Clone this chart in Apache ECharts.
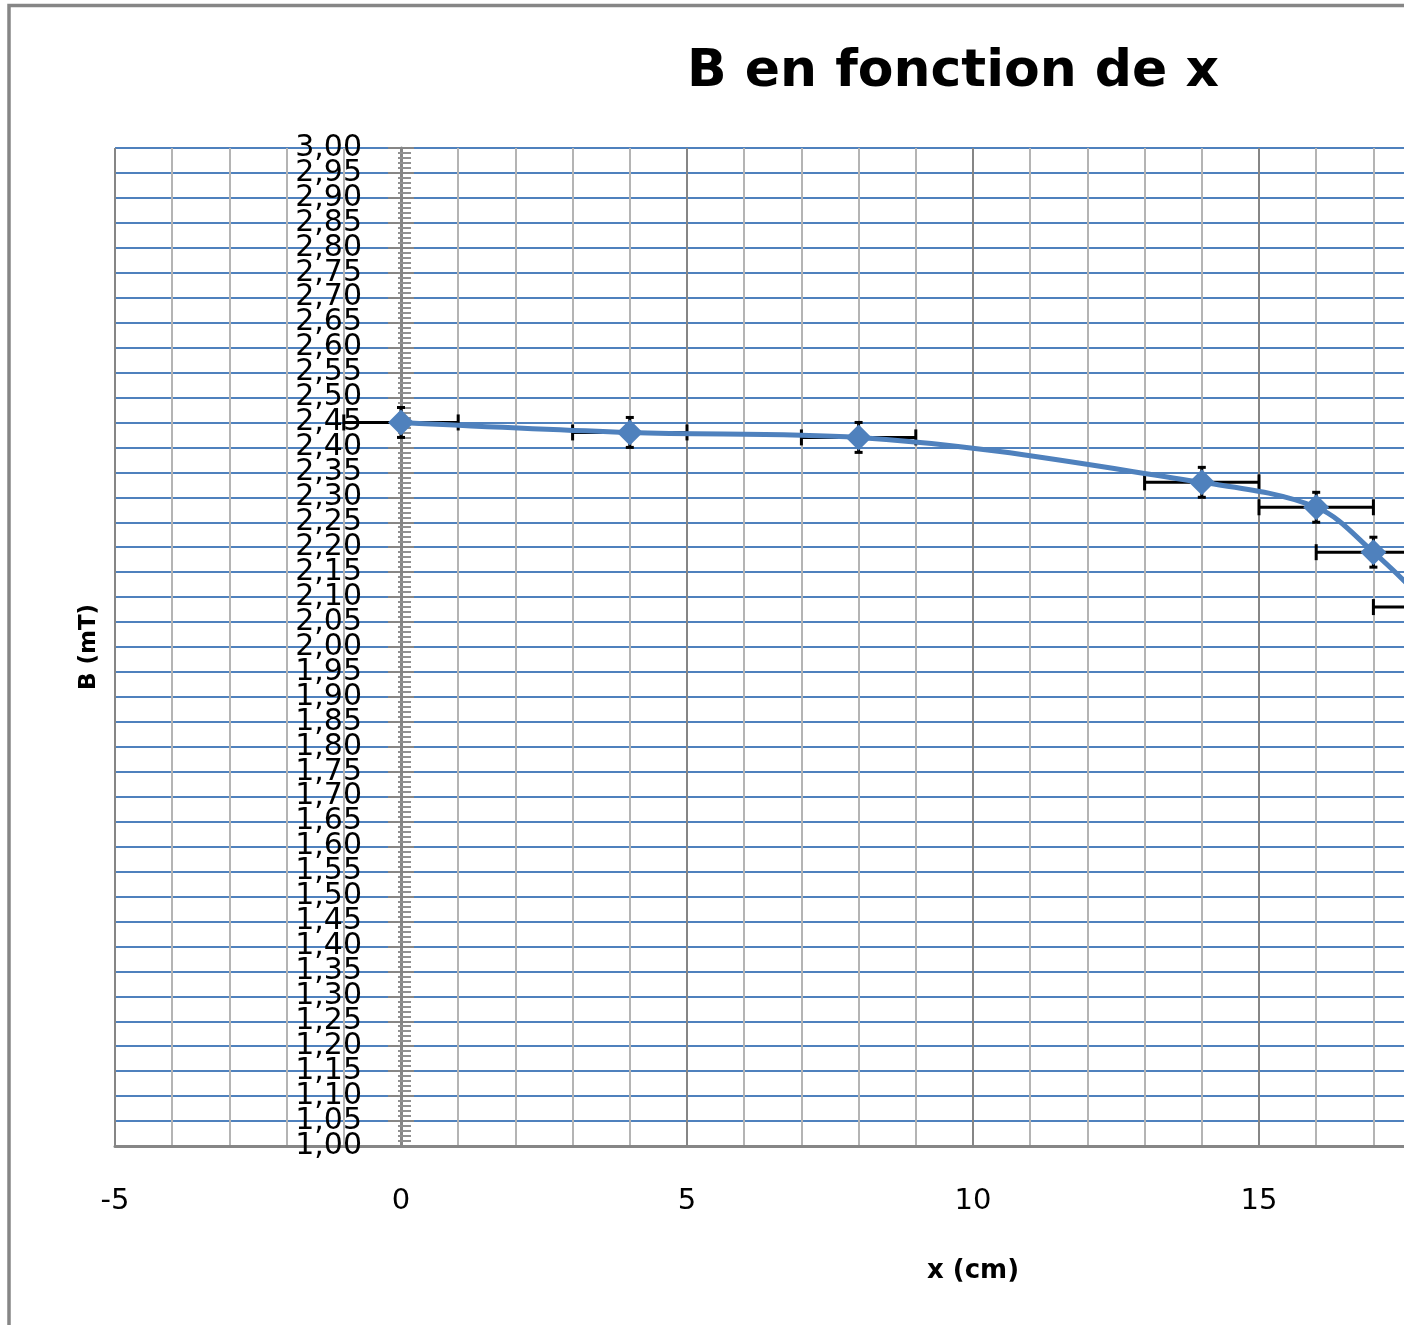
<!DOCTYPE html>
<html>
<head>
<meta charset="utf-8">
<script src="https://cdn.jsdelivr.net/npm/echarts@6/dist/echarts.min.js"></script>
<style>
html,body{margin:0;padding:0;background:#fff;}
#chart{width:1404px;height:1325px;}
</style>
</head>
<body>
<div id="chart"></div>
<script>
// Data
var xValues = [0, 4, 8, 14, 16, 17, 18];          // x (cm)
var bValues = [2.45, 2.43, 2.42, 2.33, 2.28, 2.19, 2.08]; // B (mT)
var xErrors = [1, 1, 1, 1, 1, 1, 1];              // ± x error
var bErrors = [0.03, 0.03, 0.03, 0.03, 0.03, 0.03, 0.03]; // ± B error

var titleText = 'B en fonction de x';
var xName = 'x (cm)';
var yName = 'B (mT)';

var lineData = xValues.map(function (x, i) { return [x, bValues[i]]; });
var errData = xValues.map(function (x, i) { return [x, bValues[i], xErrors[i], bErrors[i]]; });

var chart = echarts.init(document.getElementById('chart'));
var GRID_LEFT = 115, GRID_TOP = 148, PX_PER_X = 57.2;
var X_MIN = -5, X_MAX = 25, Y_MIN = 1, Y_MAX = 3;
// y axis crosses at x = 0 : shift it inward from the grid's left edge
var Y_AXIS_OFFSET = -(0 - X_MIN) * PX_PER_X;

function fmt(v) { return v.toFixed(2).replace('.', ','); }
var labelStyle = { margin: 39, fontFamily: 'DejaVu Sans', fontSize: 30, color: '#000', hideOverlap: false, formatter: fmt };

var option = {
  animation: false,
  backgroundColor: '#ffffff',
  graphic: [
    {
      type: 'rect', z: -10,
      shape: { x: 9, y: 5.5, width: 3000, height: 3000 },
      style: { fill: '#ffffff', stroke: '#868686', lineWidth: 3.5 }
    },
    {
      type: 'text', z: 100,
      x: 953, y: 72,
      style: {
        text: titleText, fill: '#000', align: 'center', verticalAlign: 'middle',
        font: 'bold 52px "DejaVu Sans"'
      }
    }
  ],
  grid: {
    left: GRID_LEFT, top: GRID_TOP,
    width: PX_PER_X * (X_MAX - X_MIN), height: 998,
    containLabel: false,
    outerBoundsMode: 'none'
  },
  xAxis: {
    type: 'value', min: X_MIN, max: X_MAX, interval: 5,
    name: xName, nameLocation: 'middle', nameGap: 112,
    nameTextStyle: { fontFamily: 'DejaVu Sans', fontWeight: 'bold', fontSize: 26, color: '#000' },
    axisLine: { show: true, onZero: false, lineStyle: { color: '#868686', width: 3 } },
    axisTick: { show: false },
    axisLabel: { margin: 41, fontFamily: 'DejaVu Sans', fontSize: 29, color: '#000', showMinLabel: true, showMaxLabel: true, hideOverlap: false },
    splitLine: { show: true, lineStyle: { color: '#868686', width: 2 } },
    minorTick: { show: false, splitNumber: 5 },
    minorSplitLine: { show: true, lineStyle: { color: '#b4b4b4', width: 2 } }
  },
  yAxis: [
    {
      type: 'value', min: Y_MIN, max: Y_MAX, interval: 0.05,
      position: 'left', offset: Y_AXIS_OFFSET,
      name: yName, nameLocation: 'middle', nameGap: 300, nameRotate: 90,
      nameTextStyle: { fontFamily: 'DejaVu Sans', fontWeight: 'bold', fontSize: 23, color: '#000' },
      axisLine: { show: true, onZero: false, lineStyle: { color: '#868686', width: 3 } },
      axisTick: { show: true, inside: true, length: 13, lineStyle: { color: '#868686', width: 2 } },
      minorTick: { show: true, splitNumber: 5, length: 10, lineStyle: { color: '#909090', width: 2 } },
      axisLabel: Object.assign({}, labelStyle, { showMinLabel: false, showMaxLabel: false }),
      splitLine: { show: true, lineStyle: { color: '#4f81bd', width: 2 } }
    },
    {
      // outward half of the crossing ticks
      type: 'value', min: Y_MIN, max: Y_MAX, interval: 0.05,
      position: 'left', offset: Y_AXIS_OFFSET,
      axisLine: { show: false, onZero: false },
      axisTick: { show: true, inside: false, length: 13, lineStyle: { color: '#868686', width: 2 } },
      minorTick: { show: true, splitNumber: 5, length: 3, lineStyle: { color: '#909090', width: 2 } },
      axisLabel: { show: false },
      splitLine: { show: false }
    },
    {
      // end labels (1,00 and 3,00)
      type: 'value', min: Y_MIN, max: Y_MAX, interval: Y_MAX - Y_MIN,
      position: 'left', offset: Y_AXIS_OFFSET,
      axisLine: { show: false, onZero: false },
      axisTick: { show: false },
      axisLabel: Object.assign({}, labelStyle, { showMinLabel: true, showMaxLabel: true }),
      splitLine: { show: false }
    }
  ],
  series: [
    {
      type: 'custom',
      z: 2,
      data: errData,
      renderItem: function (params, api) {
        var x = api.value(0), y = api.value(1), ex = api.value(2), ey = api.value(3);
        var pL = api.coord([x - ex, y]);
        var pR = api.coord([x + ex, y]);
        var pT = api.coord([x, y + ey]);
        var pB = api.coord([x, y - ey]);
        var st = { stroke: '#000', lineWidth: 3 };
        var capH = 8, capV = 4;
        return {
          type: 'group',
          children: [
            { type: 'line', shape: { x1: pL[0], y1: pL[1], x2: pR[0], y2: pR[1] }, style: st },
            { type: 'line', shape: { x1: pL[0], y1: pL[1] - capH, x2: pL[0], y2: pL[1] + capH }, style: st },
            { type: 'line', shape: { x1: pR[0], y1: pR[1] - capH, x2: pR[0], y2: pR[1] + capH }, style: st },
            { type: 'line', shape: { x1: pT[0], y1: pT[1], x2: pB[0], y2: pB[1] }, style: st },
            { type: 'line', shape: { x1: pT[0] - capV, y1: pT[1], x2: pT[0] + capV, y2: pT[1] }, style: st },
            { type: 'line', shape: { x1: pB[0] - capV, y1: pB[1], x2: pB[0] + capV, y2: pB[1] }, style: st }
          ]
        };
      }
    },
    {
      type: 'line',
      z: 5,
      data: lineData,
      smooth: 0.35,
      symbol: 'diamond',
      symbolSize: 26,
      lineStyle: { color: '#4f81bd', width: 5 },
      itemStyle: { color: '#4f81bd' }
    }
  ]
};
chart.setOption(option);
</script>
</body>
</html>
